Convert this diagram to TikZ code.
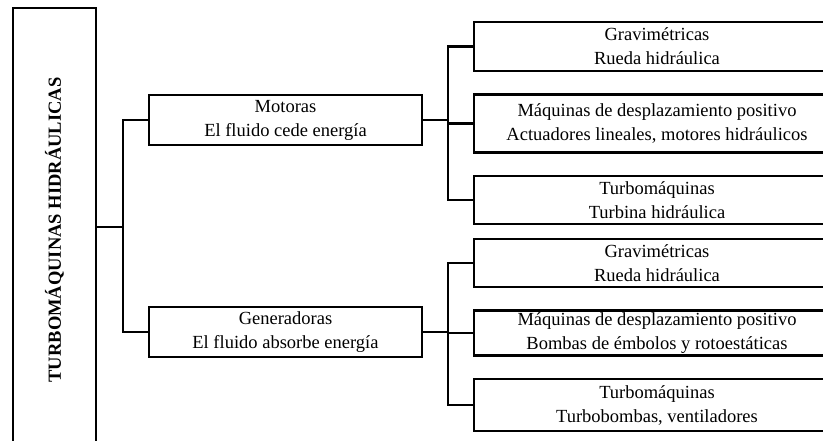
\documentclass[tikz,border=0pt]{standalone}
\usepackage{fontspec}
\setmainfont{Liberation Serif}
\usetikzlibrary{positioning}

\begin{document}
\begin{tikzpicture}[
    x=1pt, y=-1pt,
    node distance=21pt,
    every node/.style={draw=black, line width=2.5pt, rectangle, align=center, inner sep=2pt, font=\fontsize{18.5}{24}\selectfont},
    titlebox/.style={minimum width=444pt, minimum height=83pt},
    groupbox/.style={minimum width=273pt, minimum height=50pt},
    leafbox/.style={minimum width=366pt, minimum height=50pt},
    link/.style={draw=black, line width=2.5pt}
]
\clip (0,0) rectangle (823,441);

\node[titlebox, rotate=90] (title) at (54.5,230) {\bfseries TURBOMÁQUINAS HIDRÁULICAS};

\node[groupbox] (mot) at (285.5,120) {Motoras\\El fluido cede energía};
\node[groupbox] (gen) at (285.5,332) {Generadoras\\El fluido absorbe energía};

% motoras
\node[leafbox, minimum height=49pt] (mgrav) at (657,46.5) {Gravimétricas\\Rueda hidráulica};
\node[leafbox, minimum height=58pt, below=of mgrav] (mdesp) {Máquinas de desplazamiento positivo\\Actuadores lineales, motores hidráulicos};
\node[leafbox, minimum height=48pt, below=of mdesp] (mturb) {Turbomáquinas\\Turbina hidráulica};

% generadoras
\node[leafbox, minimum height=48pt] (ggrav) at (657,263) {Gravimétricas\\Rueda hidráulica};
\node[leafbox, minimum height=45pt, below=of ggrav] (gdesp) {Máquinas de desplazamiento positivo\\Bombas de émbolos y rotoestáticas};
\node[leafbox, minimum height=52pt, below=of gdesp] (gturb) {Turbomáquinas\\Turbobombas, ventiladores};

\coordinate (jt) at (123,227);
\coordinate (jm) at (448,120);
\coordinate (jg) at (448,332);

\draw[link] (title.south |- jt) -- (jt);
\draw[link] (jt) |- (mot);
\draw[link] (jt) |- (gen);

\draw[link] (mot) -- (jm);
\draw[link] (jm) |- (mgrav);
\draw[link] (jm) |- (mdesp);
\draw[link] (jm) |- (mturb);

\draw[link] (gen) -- (jg);
\draw[link] (jg) |- (ggrav);
\draw[link] (jg) |- (gdesp);
\draw[link] (jg) |- (gturb);

\end{tikzpicture}
\end{document}
